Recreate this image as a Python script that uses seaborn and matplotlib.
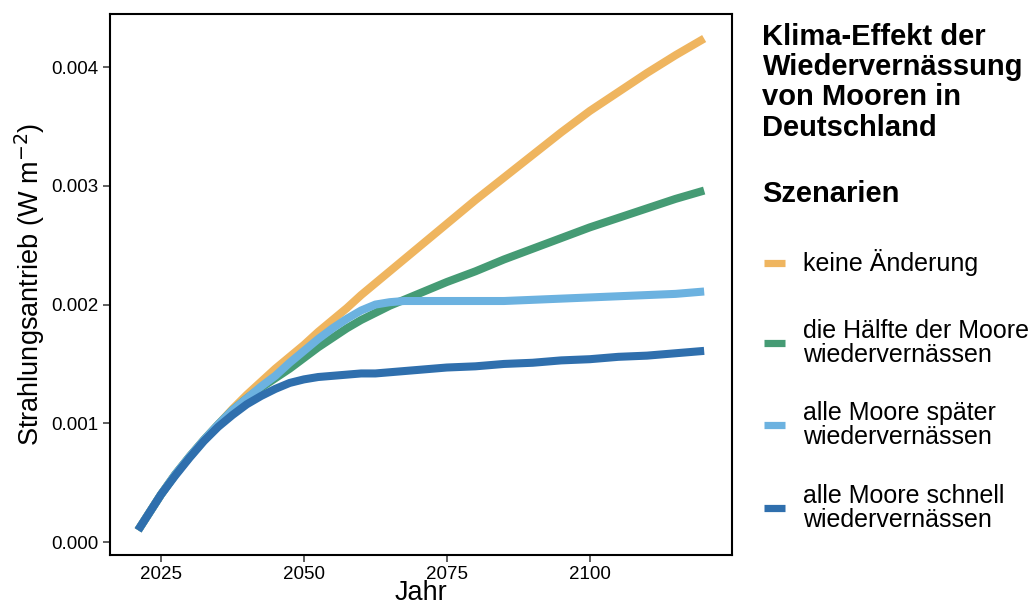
import numpy as np
import pandas as pd
import matplotlib.pyplot as plt
import seaborn as sns
from matplotlib.ticker import FormatStrFormatter
from matplotlib.lines import Line2D

sns.set_style('ticks')
plt.rcParams['font.family'] = ['Liberation Sans', 'DejaVu Sans']
plt.rcParams['text.color'] = 'black'
plt.rcParams['axes.labelcolor'] = 'black'

# Jahre und Strahlungsantrieb (W m^-2) je Szenario
jahre = [2021, 2023, 2025, 2027.5, 2030, 2032.5, 2035, 2037.5, 2040, 2042.5,
         2045, 2047.5, 2050, 2052.5, 2055, 2057.5, 2060, 2062.5, 2065, 2067.5,
         2070, 2075, 2080, 2085, 2090, 2095, 2100, 2105, 2110, 2115, 2120]

keine_aenderung = [0.00010, 0.00025, 0.00040, 0.00057, 0.00072, 0.00086, 0.00099, 0.00112,
                   0.00124, 0.00135, 0.00146, 0.00156, 0.00166, 0.00177, 0.00187, 0.00197,
                   0.00208, 0.00218, 0.00228, 0.00238, 0.00248, 0.00268, 0.00288, 0.00307,
                   0.00326, 0.00345, 0.00363, 0.00379, 0.00395, 0.00410, 0.00424]

haelfte = [0.00010, 0.00025, 0.00040, 0.00057, 0.00072, 0.00086, 0.00099, 0.00111,
           0.00121, 0.00130, 0.00138, 0.00146, 0.00155, 0.00164, 0.00172, 0.00180,
           0.00187, 0.00193, 0.00199, 0.00204, 0.00209, 0.00219, 0.00228, 0.00238,
           0.00247, 0.00256, 0.00265, 0.00273, 0.00281, 0.00289, 0.00296]

spaeter = [0.00010, 0.00025, 0.00040, 0.00057, 0.00072, 0.00086, 0.00099, 0.00111,
           0.00121, 0.00131, 0.00140, 0.00151, 0.00161, 0.00171, 0.00180, 0.00188,
           0.00195, 0.00200, 0.00202, 0.00203, 0.00203, 0.00203, 0.00203, 0.00203,
           0.00204, 0.00205, 0.00206, 0.00207, 0.00208, 0.00209, 0.00211]

schnell = [0.00010, 0.00025, 0.00040, 0.00056, 0.00071, 0.00085, 0.00097, 0.00107,
           0.00116, 0.00123, 0.00129, 0.00134, 0.00137, 0.00139, 0.00140, 0.00141,
           0.00142, 0.00142, 0.00143, 0.00144, 0.00145, 0.00147, 0.00148, 0.00150,
           0.00151, 0.00153, 0.00154, 0.00156, 0.00157, 0.00159, 0.00161]

szenarien = ['keine Änderung',
             'die Hälfte der Moore\nwiedervernässen',
             'alle Moore später\nwiedervernässen',
             'alle Moore schnell\nwiedervernässen']
farben = ['#EFB55F', '#459B74', '#6CB2E0', '#2F6FAD']

df = pd.concat([
    pd.DataFrame({'Jahr': jahre, 'Wert': werte, 'Szenario': s})
    for s, werte in zip(szenarien, [keine_aenderung, haelfte, spaeter, schnell])
])

fig = plt.figure(figsize=(10.36, 6.07), dpi=100)
ax = fig.add_axes([0.106, 0.086, 0.601, 0.891])

sns.lineplot(data=df, x='Jahr', y='Wert', hue='Szenario', hue_order=szenarien,
             palette=farben, linewidth=5.8, legend=False, ax=ax)
for ln in ax.get_lines():
    ln.set_solid_joinstyle('round')
    ln.set_solid_capstyle('butt')

ax.set_xlim(2016.05, 2124.95)
ax.set_ylim(-0.000107, 0.004447)
ax.set_xticks([2025, 2050, 2075, 2100])
ax.set_yticks([0.000, 0.001, 0.002, 0.003, 0.004])
ax.yaxis.set_major_formatter(FormatStrFormatter('%.3f'))
ax.tick_params(labelsize=13.5, length=5, width=1.1, color='#333333',
               labelcolor='black', pad=3)
for sp in ax.spines.values():
    sp.set_visible(True)
    sp.set_linewidth(1.5)
    sp.set_color('black')

ax.set_xlabel('Jahr', fontsize=19.5, labelpad=-2)
ax.set_ylabel('Strahlungsantrieb (W m$^{-2}$)', fontsize=19.5, labelpad=3)

# Legende rechts
fig.text(0.736, 0.962, 'Klima-Effekt der\nWiedervernässung\nvon Mooren in\nDeutschland',
         fontsize=21, fontweight='bold', va='top', ha='left', linespacing=1.1)
fig.text(0.736, 0.681, 'Szenarien', fontsize=21, fontweight='bold', va='center', ha='left')

y_pos = [0.567, 0.435, 0.300, 0.163]
for label, farbe, yp in zip(szenarien, farben, y_pos):
    fig.add_artist(Line2D([0.737, 0.758], [yp, yp], color=farbe, linewidth=5.2,
                          solid_capstyle='butt', transform=fig.transFigure))
    fig.text(0.775, yp, label, fontsize=18, va='center', ha='left', linespacing=1.0)

plt.savefig('out.png', dpi=100)
